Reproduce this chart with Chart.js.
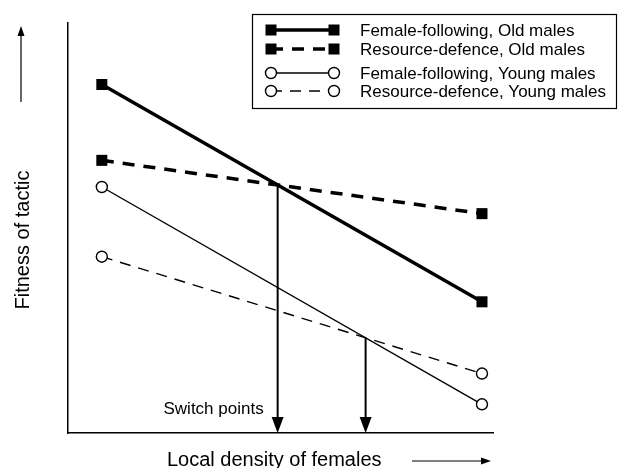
<!DOCTYPE html>
<html>
<head>
<meta charset="utf-8">
<script src="https://cdn.jsdelivr.net/npm/chart.js@4"></script>
<style>
  body { margin: 0; background: #fff; }
  canvas { display: block; }
</style>
</head>
<body>
<canvas id="tactics" width="618" height="468"></canvas>
<script>
// local density of females (arbitrary units), low and high end
const densityX = [0, 10];
// fitness of each tactic at the two densities
const femaleFollowingOld = [8.5, 3.2];
const resourceDefenceOld = [6.65, 5.35];
const femaleFollowingYoung = [6.0, 0.7];
const resourceDefenceYoung = [4.3, 1.45];

const seriesLabels = [
  "Female-following, Old males",
  "Resource-defence, Old males",
  "Female-following, Young males",
  "Resource-defence, Young males",
];

const FONT = "'Liberation Sans', Arial, sans-serif";

function toPoints(ys) {
  return densityX.map((x, i) => ({ x: x, y: ys[i] }));
}

function makeDataset(label, ys, old, dashed) {
  return {
    label: label,
    data: toPoints(ys),
    borderColor: "#000",
    borderWidth: old ? 3.5 : 1.4,
    borderDash: dashed ? (old ? [12, 9] : [11, 8]) : [],
    pointStyle: old ? "rect" : "circle",
    pointRadius: old ? 7.8 : 5.5,
    pointBorderWidth: old ? 0 : 1.4,
    pointBorderColor: "#000",
    pointBackgroundColor: old ? "#000" : "#fff",
    fill: false,
  };
}

// where two straight lines cross, in data units
function crossing(a, b) {
  const d0 = a[0] - b[0];
  const d1 = a[1] - b[1];
  const t = d0 / (d0 - d1);
  return {
    x: densityX[0] + t * (densityX[1] - densityX[0]),
    y: a[0] + t * (a[1] - a[0]),
  };
}

const extras = {
  id: "extras",
  afterDatasetsDraw(chart) {
    const ctx = chart.ctx;
    const xs = chart.scales.x;
    const ys = chart.scales.y;
    const area = chart.chartArea;

    // switch point arrows
    const pts = [
      crossing(femaleFollowingOld, resourceDefenceOld),
      crossing(femaleFollowingYoung, resourceDefenceYoung),
    ];
    ctx.save();
    ctx.strokeStyle = "#000";
    ctx.fillStyle = "#000";
    ctx.lineWidth = 2;
    pts.forEach((p) => {
      const px = xs.getPixelForValue(p.x);
      const py = ys.getPixelForValue(p.y);
      ctx.beginPath();
      ctx.moveTo(px, py);
      ctx.lineTo(px, area.bottom - 10);
      ctx.stroke();
      ctx.beginPath();
      ctx.moveTo(px - 6, area.bottom - 16);
      ctx.lineTo(px + 6, area.bottom - 16);
      ctx.lineTo(px, area.bottom);
      ctx.closePath();
      ctx.fill();
    });
    const first = xs.getPixelForValue(pts[0].x);
    ctx.font = "17px " + FONT;
    ctx.textAlign = "right";
    ctx.textBaseline = "alphabetic";
    ctx.fillText("Switch points", first - 14, area.bottom - 19);
    ctx.restore();
  },
  afterDraw(chart) {
    const ctx = chart.ctx;
    ctx.save();
    ctx.fillStyle = "#000";
    ctx.strokeStyle = "#000";

    // x axis title and arrow
    ctx.font = "20px " + FONT;
    ctx.textAlign = "left";
    ctx.textBaseline = "alphabetic";
    ctx.fillText("Local density of females", 167, 466);
    ctx.lineWidth = 1.2;
    ctx.beginPath();
    ctx.moveTo(412, 461);
    ctx.lineTo(482, 461);
    ctx.stroke();
    ctx.beginPath();
    ctx.moveTo(491, 461);
    ctx.lineTo(481, 457.5);
    ctx.lineTo(481, 464.5);
    ctx.closePath();
    ctx.fill();

    // y axis title and arrow
    ctx.save();
    ctx.translate(29, 240);
    ctx.rotate(-Math.PI / 2);
    ctx.textAlign = "center";
    ctx.fillText("Fitness of tactic", 0, 0);
    ctx.restore();
    ctx.beginPath();
    ctx.moveTo(21, 102);
    ctx.lineTo(21, 35);
    ctx.stroke();
    ctx.beginPath();
    ctx.moveTo(21, 26);
    ctx.lineTo(17.5, 36);
    ctx.lineTo(24.5, 36);
    ctx.closePath();
    ctx.fill();

    // legend box
    ctx.lineWidth = 1.2;
    ctx.strokeRect(252.5, 14.5, 364, 94);
    const rows = [30, 49, 73, 91];
    ctx.font = "17px " + FONT;
    ctx.textBaseline = "middle";
    chart.data.datasets.forEach((ds, i) => {
      const y = rows[i];
      ctx.save();
      ctx.lineWidth = ds.borderWidth;
      ctx.setLineDash(ds.borderDash);
      ctx.beginPath();
      ctx.moveTo(271, y);
      ctx.lineTo(334, y);
      ctx.stroke();
      ctx.restore();
      [271, 334].forEach((mx) => {
        if (ds.pointStyle === "rect") {
          ctx.fillRect(mx - 5.5, y - 5.5, 11, 11);
        } else {
          ctx.save();
          ctx.fillStyle = "#fff";
          ctx.lineWidth = 1.4;
          ctx.beginPath();
          ctx.arc(mx, y, 5.5, 0, Math.PI * 2);
          ctx.fill();
          ctx.stroke();
          ctx.restore();
        }
      });
      ctx.fillText(ds.label, 360, y + 1);
    });
    ctx.restore();
  },
};

const chart = new Chart(document.getElementById("tactics"), {
  type: "line",
  data: {
    datasets: [
      makeDataset(seriesLabels[0], femaleFollowingOld, true, false),
      makeDataset(seriesLabels[1], resourceDefenceOld, true, true),
      makeDataset(seriesLabels[2], femaleFollowingYoung, false, false),
      makeDataset(seriesLabels[3], resourceDefenceYoung, false, true),
    ],
  },
  options: {
    responsive: false,
    animation: false,
    layout: {
      padding: { left: 60, right: 125, top: 23, bottom: 27 },
    },
    plugins: {
      legend: { display: false },
      tooltip: { enabled: false },
    },
    scales: {
      x: {
        type: "linear",
        min: -0.89,
        max: 10.29,
        grid: { display: false },
        ticks: { display: false },
        border: { display: true, color: "#000", width: 1.5 },
      },
      y: {
        type: "linear",
        min: 0,
        max: 10,
        grid: { display: false },
        ticks: { display: false },
        border: { display: true, color: "#000", width: 1.5 },
      },
    },
  },
  plugins: [extras],
});
</script>
</body>
</html>
